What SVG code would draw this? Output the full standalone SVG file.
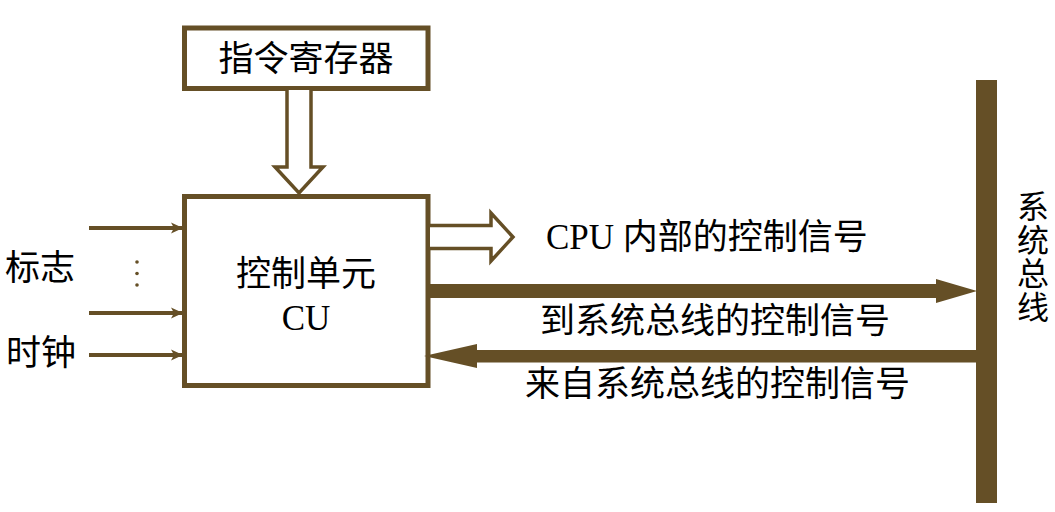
<svg xmlns="http://www.w3.org/2000/svg" width="1055" height="512" viewBox="0 0 1055 512">
<style>
.box{fill:#fff;stroke:#654f26;stroke-width:5}
.t{font-family:"Liberation Serif","Noto Sans CJK SC",serif;font-size:35px;fill:#000}
.v{font-size:32px}
.ln{stroke:#654f26;stroke-width:4;fill:none}
.hol{fill:#fff;stroke:#654f26;stroke-width:3.5;stroke-linejoin:miter}
.solid{fill:#654f26}
</style>
<defs>
<marker id="ah" viewBox="0 0 12 12" refX="12" refY="6" markerWidth="12" markerHeight="12" orient="auto" markerUnits="userSpaceOnUse">
<path d="M0,0.5 L12,6 L0,11.5 L3,6 Z" fill="#654f26"/>
</marker>
</defs>
<g id="ir">
<rect class="box" x="184.5" y="28" width="243.5" height="60.5"/>
<text class="t" x="306" y="71" text-anchor="middle">指令寄存器</text>
</g>
<g id="cu">
<rect class="box" x="184.5" y="196.5" width="243.5" height="189"/>
<text class="t" x="306" y="286" text-anchor="middle">控制单元</text>
<text class="t" x="306" y="330" text-anchor="middle">CU</text>
</g>
<g id="bus">
<rect class="solid" x="976" y="80" width="21" height="423"/>
<text class="t v" x="1033" y="218" text-anchor="middle">系</text>
<text class="t v" x="1033" y="252" text-anchor="middle">统</text>
<text class="t v" x="1033" y="285" text-anchor="middle">总</text>
<text class="t v" x="1033" y="319" text-anchor="middle">线</text>
</g>
<g id="labels">
<text class="t" x="5" y="280">标志</text>
<text class="t" x="6" y="365">时钟</text>
<circle cx="137" cy="262" r="1.8" fill="#654f26"/>
<circle cx="137" cy="273.5" r="1.8" fill="#654f26"/>
<circle cx="137" cy="285" r="1.8" fill="#654f26"/>
<text class="t" x="546" y="249">CPU 内部的控制信号</text>
<text class="t" x="540" y="333">到系统总线的控制信号</text>
<text class="t" x="525" y="396">来自系统总线的控制信号</text>
</g>
<g id="connectors">
<line class="ln" x1="89" y1="228" x2="183" y2="228" marker-end="url(#ah)"/>
<line class="ln" x1="89" y1="313" x2="183" y2="313" marker-end="url(#ah)"/>
<line class="ln" x1="89" y1="355" x2="183" y2="355" marker-end="url(#ah)"/>
<path class="hol" d="M287,90 L287,167 L275,167 L299,193 L323,167 L311,167 L311,90"/>
<path class="hol" d="M430,225.5 L491,225.5 L491,213 L513,237 L491,261 L491,248.5 L430,248.5"/>
<path class="solid" d="M430,284 L936,284 L936,279 L977,291 L936,303 L936,298 L430,298 Z"/>
<path class="solid" d="M977,350 L477,350 L477,344 L424,356 L477,368 L477,362.5 L977,362.5 Z"/>
</g>
</svg>
